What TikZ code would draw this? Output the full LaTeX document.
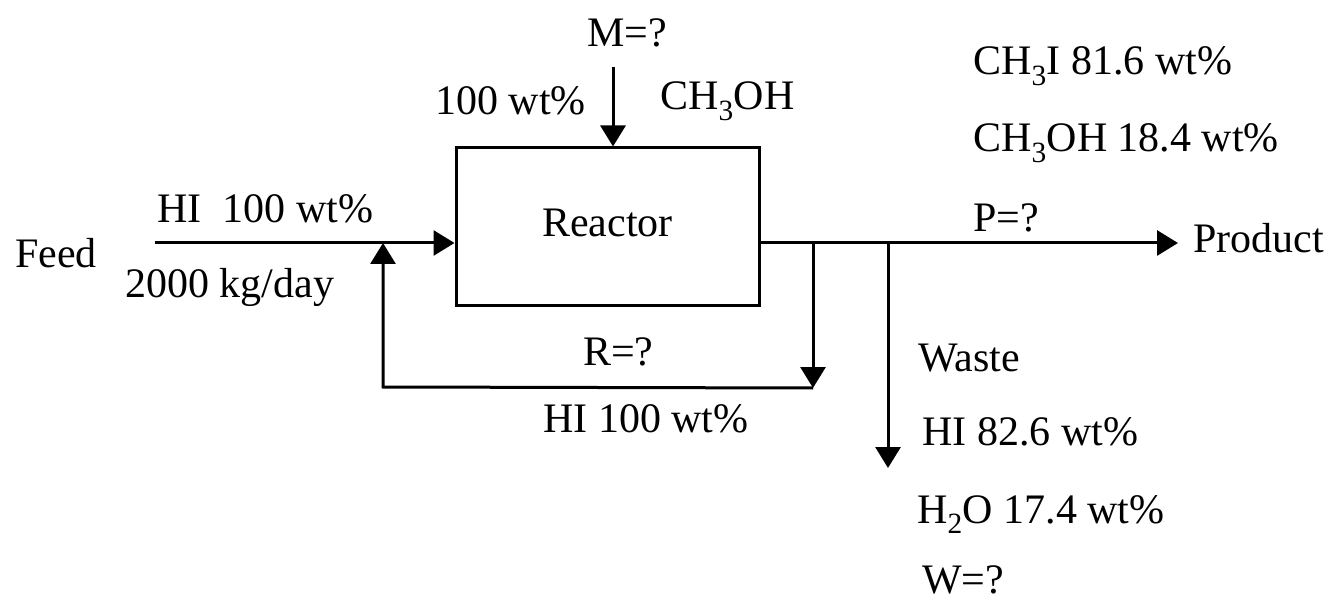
\documentclass[tikz,border=0pt]{standalone}
\usepackage{fontspec}
\setmainfont{Liberation Serif}
\usetikzlibrary{arrows.meta}
\begin{document}
\begin{tikzpicture}[x=1pt,y=-1pt,
  lbl/.style={anchor=base west,inner sep=0pt,font=\fontsize{42}{50}\selectfont},
  flow/.style={line width=3pt,-{Triangle[length=21pt,width=25pt]}},
  plain/.style={line width=3pt}]
\useasboundingbox (0,0) rectangle (1332,601);
% reactor
\node[draw,line width=3pt,minimum width=303pt,minimum height=158pt,inner sep=0pt,text height=28pt,text depth=0pt,font=\fontsize{42}{50}\selectfont] (reactor) at (607.5,227) {\raisebox{4pt}{Reactor}};
% coordinates
\coordinate (feedstart) at (155,243);
\coordinate (feedin) at (reactor.west |- feedstart);
\coordinate (mix) at (383,243);
\coordinate (rcorner) at (383,387);
\coordinate (out) at (reactor.east |- feedstart);
\coordinate (split1) at (813,243);
\coordinate (rend) at (813,388);
\coordinate (split2) at (888,243);
\coordinate (wend) at (888,468);
\coordinate (prodend) at (1178,243);
\coordinate (mstart) at (613,67);
\coordinate (min) at (reactor.north -| mstart);
% lines
\draw[flow] (feedstart) -- (feedin);
\draw[flow] (mstart) -- (min);
\draw[plain] (out) -- (split2);
\draw[flow] (split2) -- (prodend);
\draw[flow] (split1) -- (rend);
\draw[flow] (rend) -- (rcorner) -- (mix);
\draw[flow] (split2) -- (wend);
% labels
\node[lbl] (m) at (587,47) {M=?};
\node[lbl] (mpct) at (435,115) {100 wt\%};
\node[lbl] (mch) at (660,110) {CH\textsubscript{3}OH};
\node[lbl] (p1) at (973,75) {CH\textsubscript{3}I 81.6 wt\%};
\node[lbl] (p2) at (973,152) {CH\textsubscript{3}OH 18.4 wt\%};
\node[lbl] (p3) at (973,232) {P=?};
\node[lbl] (prod) at (1193,253) {Product};
\node[lbl] (feed) at (15,268) {Feed};
\node[lbl] (f1) at (157,223) {HI\ \ 100 wt\%};
\node[lbl] (f2) at (125,298) {2000 kg/day};
\node[lbl] (r1) at (583,365) {R=?};
\node[lbl] (r2) at (543,432) {HI 100 wt\%};
\node[lbl] (w0) at (918,371) {Waste};
\node[lbl] (w1) at (922,445) {HI 82.6 wt\%};
\node[lbl] (w2) at (917,523) {H\textsubscript{2}O 17.4 wt\%};
\node[lbl] (w3) at (922,593) {W=?};
\end{tikzpicture}
\end{document}
